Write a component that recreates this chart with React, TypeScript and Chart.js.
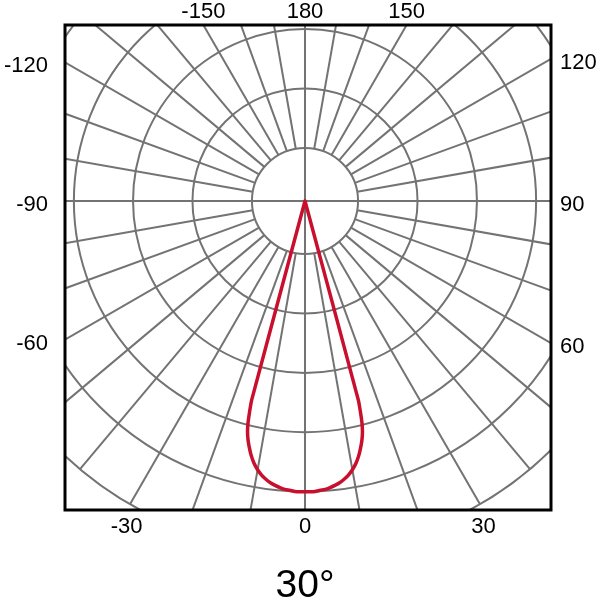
import React, { useEffect, useRef } from 'react';
import { Chart, registerables } from 'chart.js';

Chart.register(...registerables);

// Beam profile: angle (deg, 0 = straight down, + to the right) and relative intensity (max ≈ 100)
const BEAM_ANGLES = [
  -15.3, -15, -14.7, -14.4, -14, -13.5, -13, -12, -11, -10, -9, -8, -7, -6, -5, -4, -3, -2, -1,
  0,
  1, 2, 3, 4, 5, 6, 7, 8, 9, 10, 11, 12, 13, 13.5, 14, 14.4, 14.7, 15, 15.3,
];
const BEAM_INTENSITY = [
  0, 71, 75.5, 79, 81.9, 84.3, 86.2, 89.5, 92.1, 94.1, 95.7, 96.9, 97.9, 98.6, 99.2, 99.7, 99.9, 100.2, 100.3,
  100.3,
  100.3, 100.2, 99.9, 99.7, 99.2, 98.6, 97.9, 96.9, 95.7, 94.1, 92.1, 89.5, 86.2, 84.3, 81.9, 79, 75.5, 71, 0,
];

// Polar grid rings (same intensity units) and spoke spacing
const RING_VALUES = [18.3, 38.8, 59.3, 79.7, 100.2, 120.7];
const SPOKE_STEP = 10;

// Angle tick labels around the frame
const TICK_ANGLES = [-150, 180, 150, -120, 120, -90, 90, -60, 60, -30, 0, 30];
const TICK_LABELS = ['-150', '180', '150', '-120', '120', '-90', '90', '-60', '60', '-30', '0', '30'];
const BEAM_LABEL = '30°';

const X_MIN = -82.76;
const X_MAX = 84.83;
const Y_MIN = -106.55;
const Y_MAX = 60.69;

const GRID_COLOR = '#737373';
const BEAM_COLOR = '#c8102e';
const FONT = "'Liberation Sans', Arial, sans-serif";

const toXY = (deg: number, r: number) => {
  const a = (deg * Math.PI) / 180;
  return { x: r * Math.sin(a), y: -r * Math.cos(a) };
};

const polarPlugin = {
  id: 'polarGrid',
  beforeDatasetsDraw(chart: any) {
    const { ctx, chartArea } = chart;
    const xs = chart.scales.x;
    const ys = chart.scales.y;
    const cx = xs.getPixelForValue(0);
    const cy = ys.getPixelForValue(0);
    ctx.save();
    ctx.beginPath();
    ctx.rect(chartArea.left, chartArea.top, chartArea.right - chartArea.left, chartArea.bottom - chartArea.top);
    ctx.clip();
    ctx.strokeStyle = GRID_COLOR;
    ctx.lineWidth = 2;
    for (const r of RING_VALUES) {
      const rx = xs.getPixelForValue(r) - cx;
      const ry = cy - ys.getPixelForValue(r);
      ctx.beginPath();
      ctx.ellipse(cx, cy, rx, ry, 0, 0, Math.PI * 2);
      ctx.stroke();
    }
    const inner = RING_VALUES[0];
    const outer = RING_VALUES[RING_VALUES.length - 1];
    for (let a = -180 + SPOKE_STEP; a <= 180; a += SPOKE_STEP) {
      const start = a % 90 === 0 ? 0 : inner;
      const p0 = toXY(a, start);
      const p1 = toXY(a, outer);
      ctx.beginPath();
      ctx.moveTo(xs.getPixelForValue(p0.x), ys.getPixelForValue(p0.y));
      ctx.lineTo(xs.getPixelForValue(p1.x), ys.getPixelForValue(p1.y));
      ctx.stroke();
    }
    ctx.restore();
  },
  afterDraw(chart: any) {
    const { ctx, chartArea } = chart;
    const { left, right, top, bottom } = chartArea;
    const xs = chart.scales.x;
    const ys = chart.scales.y;
    const cx = xs.getPixelForValue(0);
    const cy = ys.getPixelForValue(0);
    ctx.save();
    ctx.strokeStyle = '#000';
    ctx.lineWidth = 3;
    ctx.strokeRect(left, top, right - left, bottom - top);

    ctx.fillStyle = '#000';
    ctx.font = `22px ${FONT}`;
    ctx.textBaseline = 'alphabetic';
    TICK_ANGLES.forEach((a, i) => {
      const rad = (a * Math.PI) / 180;
      const dx = Math.sin(rad);
      const dy = Math.cos(rad);
      const tx = Math.abs(dx) < 1e-9 ? Infinity : dx > 0 ? (right - cx) / dx : (left - cx) / dx;
      const ty = Math.abs(dy) < 1e-9 ? Infinity : dy > 0 ? (bottom - cy) / dy : (top - cy) / dy;
      const text = TICK_LABELS[i];
      if (tx < ty) {
        const yi = cy + dy * tx;
        if (dx < 0) {
          ctx.textAlign = 'right';
          ctx.fillText(text, left - 17, yi + 10);
        } else {
          ctx.textAlign = 'left';
          ctx.fillText(text, right + 9, yi + 10);
        }
      } else {
        const xi = cx + dx * ty;
        ctx.textAlign = 'center';
        if (dy < 0) ctx.fillText(text, xi, top - 7);
        else ctx.fillText(text, xi, bottom + 23);
      }
    });

    ctx.font = `39px ${FONT}`;
    ctx.textAlign = 'center';
    ctx.fillText(BEAM_LABEL, cx, bottom + 87);
    ctx.restore();
  },
};

export default function App() {
  const canvasRef = useRef<HTMLCanvasElement | null>(null);

  useEffect(() => {
    const canvas = canvasRef.current;
    if (!canvas) return;
    const beamPoints = BEAM_ANGLES.map((a, i) => toXY(a, BEAM_INTENSITY[i]));
    const chart = new Chart(canvas, {
      type: 'scatter',
      data: {
        datasets: [
          {
            label: 'Beam',
            data: beamPoints,
            showLine: true,
            borderColor: BEAM_COLOR,
            backgroundColor: BEAM_COLOR,
            borderWidth: 3.5,
            pointRadius: 0,
            tension: 0.2,
            fill: false,
            borderJoinStyle: 'round',
            borderCapStyle: 'round',
          } as any,
        ],
      },
      options: {
        animation: false,
        responsive: false,
        events: [],
        layout: { padding: { left: 65, top: 25, right: 49, bottom: 90 } },
        scales: {
          x: { type: 'linear', min: X_MIN, max: X_MAX, display: false },
          y: { type: 'linear', min: Y_MIN, max: Y_MAX, display: false },
        },
        plugins: {
          legend: { display: false },
          tooltip: { enabled: false },
          title: { display: false },
        },
      },
      plugins: [polarPlugin],
    });
    return () => chart.destroy();
  }, []);

  return (
    <div style={{ position: 'fixed', left: 0, top: 0, width: 600, height: 600, background: '#fff' }}>
      <canvas ref={canvasRef} width={600} height={600} style={{ width: 600, height: 600, display: 'block' }} />
    </div>
  );
}
